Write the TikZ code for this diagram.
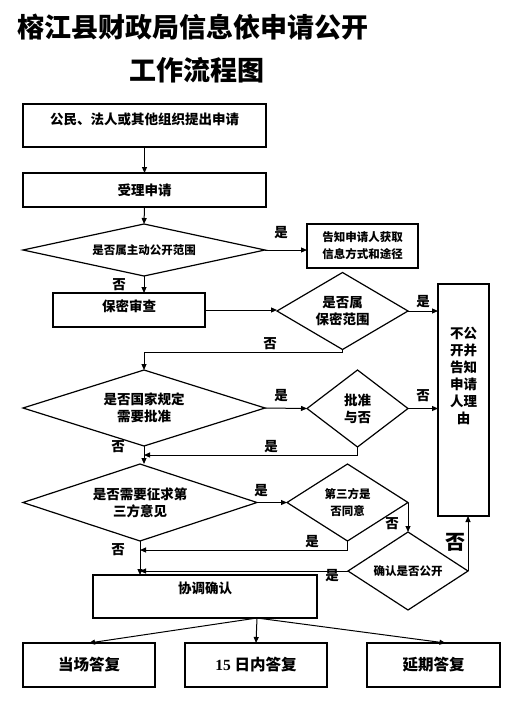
\documentclass[tikz,border=0pt]{standalone}
\usepackage{fontspec}
\setmainfont{Noto Sans CJK SC}
\newfontfamily\numfont{Liberation Serif}
\usetikzlibrary{arrows.meta, shapes.geometric}
\tikzset{%
	stepbox/.style={
		rectangle,
		draw,
		line width=1.2pt,
		inner sep=2pt,
		outer sep=0pt,
		align=center,
		font=\fontsize{13.5}{17}\selectfont\bfseries
	},
	decision/.style={
		diamond,
		draw,
		aspect=1.6,
		line width=1.2pt,
		inner sep=0pt,
		outer sep=0pt,
		align=center,
		font=\fontsize{13.5}{17}\selectfont\bfseries
	},
	small text/.style={
		font=\fontsize{11.5}{17}\selectfont\bfseries
	},
	flow/.style={
		line width=1pt,
		-{Triangle[length=6pt, width=5pt]}
	},
	tag/.style={
		inner sep=0pt,
		font=\fontsize{13.5}{14}\selectfont\bfseries
	},
}
\begin{document}
\begin{tikzpicture}[x=1pt, y=-1pt]
	\useasboundingbox (0,0) rectangle (513,706);
	
	% Title
	\node[font=\fontsize{27}{30}\selectfont\bfseries] (title) at (193,27) {榕江县财政局信息依申请公开};
	\node[font=\fontsize{27}{30}\selectfont\bfseries] (subtitle) at (197,70) {工作流程图};
	
	% Main column
	\node[stepbox, minimum width=243pt, minimum height=43pt, text depth=14pt] (apply) at (144.5,125.5) {公民、法人或其他组织提出申请};
	\node[stepbox, minimum width=243pt, minimum height=34pt] (accept) at (144.5,190) {受理申请};
	\node[decision, small text, aspect=4.6, minimum width=242pt, minimum height=52pt] (active) at (144,250) {是否属主动公开范围};
	\node[stepbox, small text, minimum width=111pt, minimum height=44pt] (notify) at (362.5,246) {告知申请人获取\\信息方式和途径};
	\node[stepbox, minimum width=152pt, minimum height=34pt, text depth=9pt] (secret) at (129,310) {保密审查};
	\node[decision, minimum width=131pt, minimum height=77pt] (confid) at (342.5,311) {是否属\\保密范围};
	\node[stepbox, minimum width=51pt, minimum height=232pt] (reason) at (463.5,400) {};
	\node[stepbox, draw=none] (reasontext) at (463.5,375.5) {不公\\开并\\告知\\申请\\人理\\由};
	\node[decision, aspect=3, minimum width=242pt, minimum height=76pt] (approve) at (144,408) {是否国家规定\\需要批准};
	\node[decision, minimum width=101pt, minimum height=77pt] (grant) at (357.5,408.5) {批准\\与否};
	\node[decision, aspect=3, minimum width=234pt, minimum height=77pt] (third) at (140,502.5) {是否需要征求第\\三方意见};
	\node[decision, small text, minimum width=121pt, minimum height=77pt] (agree) at (347.5,502.5) {第三方是\\否同意};
	\node[decision, small text, minimum width=120pt, minimum height=78pt] (confirm) at (408,571) {确认是否公开};
	\node[stepbox, minimum width=224pt, minimum height=43pt, text depth=18pt] (coord) at (205,596.5) {协调确认};
	
	% Replies
	\node[stepbox, font=\fontsize{15.5}{17}\selectfont\bfseries, minimum width=132pt, minimum height=44pt] (onsite) at (89,665) {当场答复};
	\node[stepbox, font=\fontsize{15.5}{17}\selectfont\bfseries, minimum width=142pt, minimum height=44pt] (within) at (256,665) {{\numfont 15} 日内答复};
	\node[stepbox, font=\fontsize{15.5}{17}\selectfont\bfseries, minimum width=133pt, minimum height=44pt] (delay) at (433.5,665) {延期答复};
	
	% Junctions
	\coordinate (j1) at (144,455);
	\coordinate (j2) at (140,550);
	\coordinate (fork) at (257,618);
	
	% Connectors
	\draw[flow] (apply.south) -- (accept.north);
	\draw[flow] (accept.south) -- (active.north);
	\draw[flow] (active.east) -- (active.east -| notify.west);
	\draw[flow] (active.south) -- (active.south |- secret.north);
	\draw[flow] (secret.east) -- (secret.east -| confid.west);
	\draw[flow] (confid.east) -- (confid.east -| reason.west);
	\draw[flow] (confid.south) -- ++(0,3) -| (approve.north);
	\draw[flow] (approve.east) -- (grant.west);
	\draw[flow] (grant.east) -- (grant.east -| reason.west);
	\draw[flow] (grant.south) |- (j1);
	\draw[flow] (approve.south) -- (approve.south |- third.north);
	\draw[flow] (third.east) -- (third.east -| agree.west);
	\draw[flow] (agree.east) -- (agree.east |- confirm.north);
	\draw[flow] (agree.south) |- (j2);
	\draw[flow] (confirm.west) -- (confirm.west -| third.south);
	\draw[flow] (third.south) -- (third.south |- coord.north);
	\draw[flow] (confirm.east) -- (confirm.east |- reason.south);
	\foreach \b/\dx in {onsite/0, within/0, delay/12}
		\draw[flow] (fork) -- ([xshift=\dx pt]\b.north);
	
	% Yes / no tags
	\foreach \x/\y/\t [count=\i] in {281/233/是, 119/285/否, 423/302/是, 270/344/否,
		281/396/是, 423/396/否, 118/447/否, 271/447/是, 261/491/是, 392/524/否,
		312/542/是, 118/550/否, 332/576/是}
		\node[tag] (tag\i) at (\x,\y) {\t};
	\node[tag, font=\fontsize{20}{22}\selectfont\bfseries] (tagbig) at (455,542) {否};
\end{tikzpicture}
\end{document}
